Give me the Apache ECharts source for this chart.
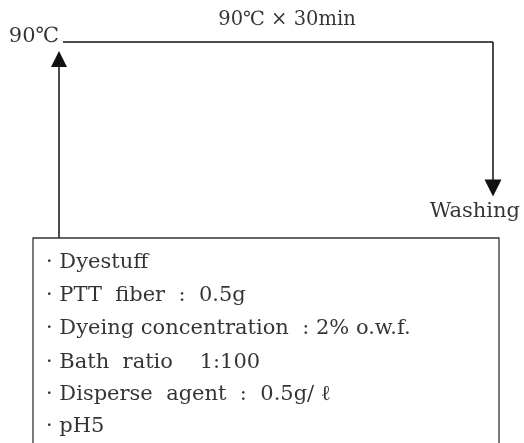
<!DOCTYPE html>
<html>
<head>
<meta charset="utf-8">
<script src="https://cdn.jsdelivr.net/npm/echarts@6/dist/echarts.min.js"></script>
<style>
    html, body { margin: 0; padding: 0; background: #fff; }
    #chart { width: 524px; height: 443px; }
</style>
</head>
<body>
<div id="chart"></div>
<script>
// 工艺流程图的数据 (diagram units = pixels, y downward)
const riseLine = [[59, 238], [59, 59]];     // 升温 (arrow up)
const holdLine = [[63, 42], [493, 42]];     // 90℃ 保温
const washLine = [[493, 42], [493, 188]];   // 水洗 (arrow down)
const boxLine = [[33, 443], [33, 238], [499, 238], [499, 443]];

const tempLabel = '90℃';
const holdLabel = '90℃ × 30min';
const endLabel = 'Washing';

const conditions = [
    'Dyestuff',
    'PTT  fiber  :  0.5g',
    'Dyeing concentration  : 2% o.w.f.',
    'Bath  ratio    1:100',
    'Disperse  agent  :  0.5g/ ℓ',
    'pH5'
];
const conditionY = [263, 296, 329, 363, 395, 427];

// 文字位置
const tempPos = [59, 37];
const holdPos = [287, 20];
const endPos = [520, 212];
const listX = 46;

let chart;

function textItem(pos, text, align, size) {
    return {
        value: pos,
        label: { formatter: text, align: align, fontSize: size || 21 }
    };
}

function arrowSeries(coords, size) {
    return {
        type: 'lines',
        coordinateSystem: 'cartesian2d',
        silent: true,
        symbol: ['none', 'triangle'],
        symbolSize: size,
        lineStyle: { color: '#111', width: 1.5, opacity: 1, curveness: 0 },
        data: [{ coords: coords }]
    };
}

function init() {
    chart = echarts.init(document.getElementById('chart'));

    const texts = [
        textItem(tempPos, tempLabel, 'right'),
        textItem(holdPos, holdLabel, 'center', 19.5),
        textItem(endPos, endLabel, 'right')
    ].concat(conditions.map((t, i) => textItem([listX, conditionY[i]], '· ' + t, 'left')));

    const option = {
        animation: false,
        grid: { left: 0, right: 0, top: 0, bottom: 0 },
        xAxis: { type: 'value', min: 0, max: 524, show: false },
        yAxis: { type: 'value', min: 0, max: 443, inverse: true, show: false },
        series: [
            arrowSeries(riseLine, [12, 16]),
            arrowSeries(washLine, [15, 17]),
            {
                type: 'lines',
                coordinateSystem: 'cartesian2d',
                silent: true,
                symbol: 'none',
                lineStyle: { color: '#111', width: 1.5, opacity: 1 },
                data: [{ coords: holdLine }]
            },
            {
                type: 'lines',
                coordinateSystem: 'cartesian2d',
                polyline: true,
                silent: true,
                symbol: 'none',
                lineStyle: { color: '#333', width: 1.3, opacity: 1 },
                data: [{ coords: boxLine }]
            },
            {
                type: 'scatter',
                symbolSize: 0,
                silent: true,
                label: {
                    show: true,
                    position: 'inside',
                    color: '#000',
                    fontFamily: 'DejaVu Serif',
                    fontSize: 21,
                    verticalAlign: 'middle'
                },
                data: texts
            }
        ]
    };

    chart.setOption(option);
}

document.addEventListener('DOMContentLoaded', init);
</script>
</body>
</html>
